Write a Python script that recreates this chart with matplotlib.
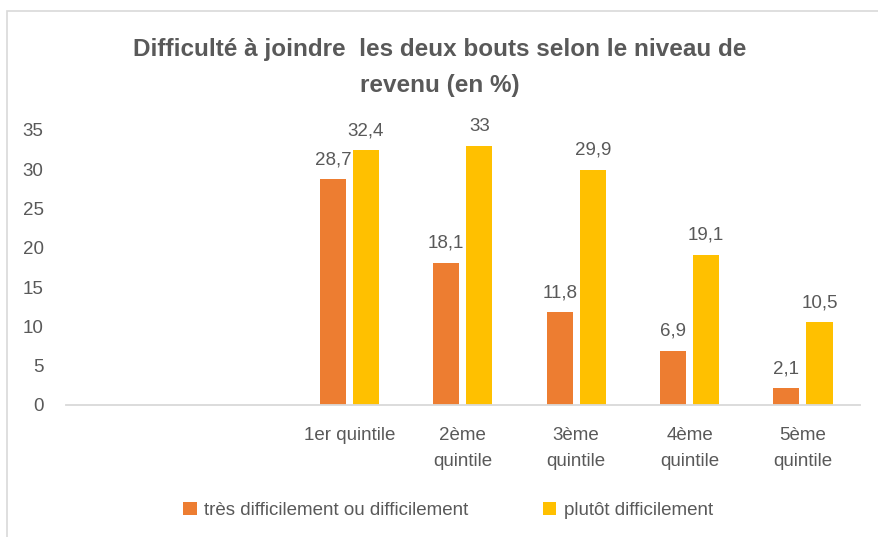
import numpy as np
import matplotlib.pyplot as plt
from matplotlib.patches import Rectangle

# Données
categories = ['', '', '1er quintile', '2ème\nquintile', '3ème\nquintile', '4ème\nquintile', '5ème\nquintile']
tres_difficile = [np.nan, np.nan, 28.7, 18.1, 11.8, 6.9, 2.1]
plutot_difficile = [np.nan, np.nan, 32.4, 33, 29.9, 19.1, 10.5]
labels_tres = ['', '', '28,7', '18,1', '11,8', '6,9', '2,1']
labels_plutot = ['', '', '32,4', '33', '29,9', '19,1', '10,5']

plt.rcParams['font.family'] = ['Liberation Sans', 'DejaVu Sans']
GRIS = '#595959'
ORANGE = '#ED7D31'
JAUNE = '#FFC000'

fig = plt.figure(figsize=(8.79, 5.37), dpi=100)
ax = fig.add_axes([0.075, 0.246, 0.903, 0.512])

x = np.arange(len(categories))
w = 0.23
b1 = ax.bar(x - 0.146, tres_difficile, w, color=ORANGE, label='très difficilement ou difficilement')
b2 = ax.bar(x + 0.146, plutot_difficile, w, color=JAUNE, label='plutôt difficilement')

# Etiquettes de données
for i in range(len(x)):
    if not np.isnan(tres_difficile[i]):
        ax.annotate(labels_tres[i], (x[i] - 0.146, tres_difficile[i]), xytext=(0, 8),
                    textcoords='offset points', ha='center', va='bottom', fontsize=13.5, color=GRIS)
        ax.annotate(labels_plutot[i], (x[i] + 0.146, plutot_difficile[i]), xytext=(0, 8),
                    textcoords='offset points', ha='center', va='bottom', fontsize=13.5, color=GRIS)

ax.set_xlim(-0.5, len(categories) - 0.5)
ax.set_ylim(0, 35)
ax.set_yticks(np.arange(0, 36, 5))
ax.set_xticks(x)
ax.set_xticklabels(categories, linespacing=1.65)
ax.tick_params(axis='both', length=0, labelsize=13.5, colors=GRIS)
ax.tick_params(axis='x', pad=16)
ax.tick_params(axis='y', pad=16)

for s in ['top', 'right', 'left']:
    ax.spines[s].set_visible(False)
ax.spines['bottom'].set_color('#D9D9D9')
ax.spines['bottom'].set_linewidth(1.3)

fig.text(0.5, 0.874, 'Difficulté à joindre  les deux bouts selon le niveau de\nrevenu (en %)',
         ha='center', va='center', fontsize=17.5, fontweight='bold', color=GRIS, linespacing=1.7)

ax.legend(loc='center', bbox_to_anchor=(0.51, 0.05), bbox_transform=fig.transFigure, ncol=2,
          frameon=False, fontsize=13.5, labelcolor=GRIS, handlelength=0.7, handleheight=0.7,
          handletextpad=0.4, columnspacing=4)

# Bordure du graphique
fig.patches.append(Rectangle((0.008, -0.01), 1.2, 0.99, transform=fig.transFigure,
                             fill=False, edgecolor='#D9D9D9', linewidth=1.2))

fig.savefig('out.png', dpi=100)
